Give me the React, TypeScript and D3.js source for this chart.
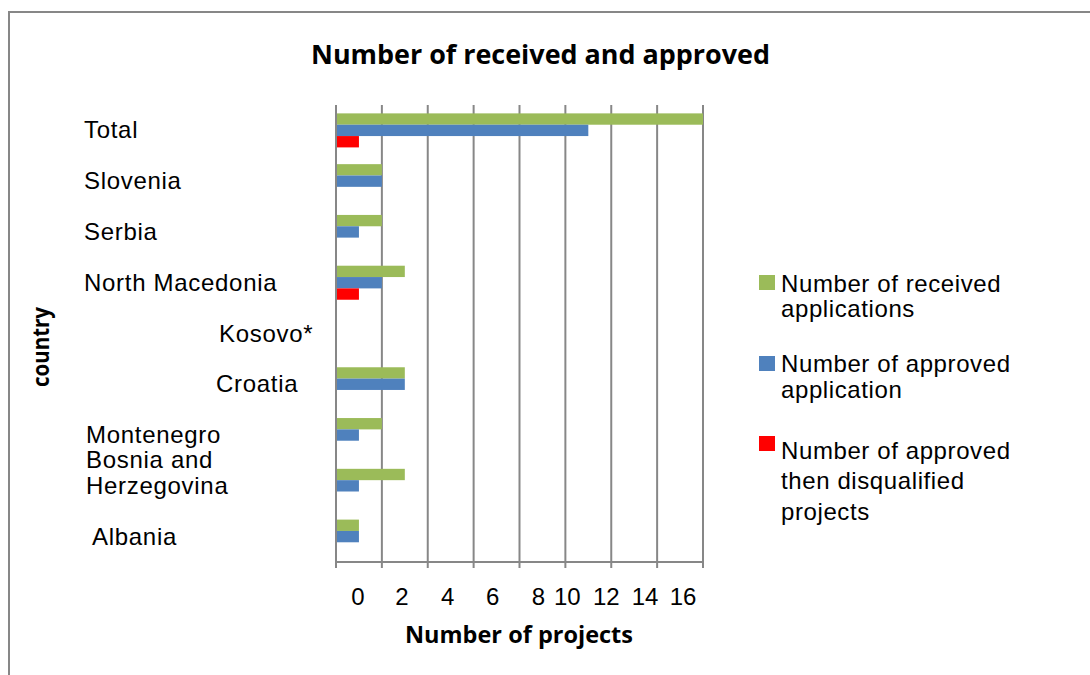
import React from "react";
import * as d3 from "d3";

const categories = [
  "Total",
  "Slovenia",
  "Serbia",
  "North Macedonia",
  "Kosovo*",
  "Croatia",
  "Montenegro",
  "Bosnia and Herzegovina",
  "Albania",
];
const received = [16, 2, 2, 3, 0, 3, 2, 3, 1];
const approved = [11, 2, 1, 2, 0, 3, 1, 1, 1];
const disqualified = [1, 0, 0, 1, 0, 0, 0, 0, 0];
const xTicks = [0, 2, 4, 6, 8, 10, 12, 14, 16];

const seriesNames = [
  ["Number of received", "applications"],
  ["Number of approved", "application"],
  ["Number of approved", "then disqualified", "projects"],
];
const seriesColors = ["#9BBB59", "#4F81BD", "#FF0000"];

// layout (style) constants
const W = 1090;
const H = 675;
const plot = { left: 336, right: 703, top: 105, bottom: 562 };
const labelLayout: Record<string, { x: number; lines: string[]; dy: number }> = {
  Total: { x: 84, lines: ["Total"], dy: 0 },
  Slovenia: { x: 84, lines: ["Slovenia"], dy: 0 },
  Serbia: { x: 84, lines: ["Serbia"], dy: 0 },
  "North Macedonia": { x: 84, lines: ["North Macedonia"], dy: 0 },
  "Kosovo*": { x: 219, lines: ["Kosovo*"], dy: 0 },
  Croatia: { x: 216, lines: ["Croatia"], dy: 0 },
  Montenegro: { x: 86, lines: ["Montenegro"], dy: 0 },
  "Bosnia and Herzegovina": { x: 86, lines: ["Bosnia and", "Herzegovina"], dy: -26 },
  Albania: { x: 92, lines: ["Albania"], dy: 0 },
};
const tickNudge = [22, 20, 20, 19, 19, 2, -5, -12, -20];
const legendLayout = [
  { sq: 275, lines: [283, 308] },
  { sq: 356, lines: [363, 389] },
  { sq: 436, lines: [450, 480, 511] },
];

export default function App() {
  const x = d3.scaleLinear().domain([0, 16]).range([plot.left, plot.right]);
  const y = d3
    .scaleBand<string>()
    .domain(categories)
    .range([plot.top, plot.bottom])
    .padding(0);
  const groupH = y.bandwidth() * 0.67;
  const sub = d3
    .scaleBand<number>()
    .domain([0, 1, 2])
    .range([0, groupH])
    .padding(0);
  const series = [received, approved, disqualified];
  const font = "'Liberation Sans', Arial, sans-serif";
  const boldFont = "'Open Sans', 'Noto Sans', sans-serif";

  return (
    <svg
      width={W}
      height={H}
      style={{ position: "absolute", left: 0, top: 0, background: "#fff" }}
    >
      <rect x={0} y={0} width={W} height={H} fill="#fff" />
      {/* frame */}
      <rect
        x={9}
        y={12}
        width={W + 20}
        height={H + 20}
        fill="none"
        stroke="#878787"
        strokeWidth={2}
      />
      {/* title */}
      <text
        x={540.5}
        y={53}
        textAnchor="middle"
        dominantBaseline="central"
        fontFamily={boldFont}
        fontWeight={700}
        fontSize={27}
        textLength={459}
        lengthAdjust="spacingAndGlyphs"
        fill="#000"
      >
        Number of received and approved
      </text>

      {/* gridlines */}
      {xTicks.map((t) => (
        <line
          key={"g" + t}
          x1={x(t)}
          x2={x(t)}
          y1={plot.top}
          y2={plot.bottom + 6}
          stroke="#878787"
          strokeWidth={2}
        />
      ))}
      <line
        x1={plot.left}
        x2={plot.right}
        y1={plot.bottom}
        y2={plot.bottom}
        stroke="#878787"
        strokeWidth={2}
      />

      {/* bars */}
      {categories.map((c, i) => {
        const y0 = (y(c) as number) + (y.bandwidth() - groupH) / 2;
        return series.map((s, k) =>
          s[i] > 0 ? (
            <rect
              key={c + k}
              x={x(0) + 1}
              y={y0 + (sub(k) as number)}
              width={x(s[i]) - x(0) - 1}
              height={sub.bandwidth()}
              fill={seriesColors[k]}
            />
          ) : null
        );
      })}

      {/* category labels */}
      {categories.map((c) => {
        const l = labelLayout[c];
        const cy = (y(c) as number) + y.bandwidth() / 2 + l.dy - 1;
        return (
          <text
            key={"l" + c}
            fontFamily={font}
            fontSize={24}
            letterSpacing={0.7}
            fill="#000"
            dominantBaseline="central"
          >
            {l.lines.map((ln, j) => (
              <tspan key={j} x={l.x} y={cy + j * 26}>
                {ln}
              </tspan>
            ))}
          </text>
        );
      })}

      {/* tick labels */}
      {xTicks.map((t, i) => (
        <text
          key={"t" + t}
          x={x(t) + tickNudge[i]}
          y={596}
          textAnchor="middle"
          dominantBaseline="central"
          fontFamily={font}
          fontSize={24}
          fill="#000"
        >
          {t}
        </text>
      ))}

      {/* axis titles */}
      <text
        x={519}
        y={634}
        textAnchor="middle"
        dominantBaseline="central"
        fontFamily={boldFont}
        fontWeight={700}
        fontSize={23}
        textLength={228}
        lengthAdjust="spacingAndGlyphs"
        fill="#000"
      >
        Number of projects
      </text>
      <text
        transform="translate(40,347) rotate(-90)"
        textAnchor="middle"
        dominantBaseline="central"
        fontFamily={boldFont}
        fontWeight={700}
        fontSize={23}
        textLength={80}
        lengthAdjust="spacingAndGlyphs"
        fill="#000"
      >
        country
      </text>

      {/* legend */}
      {seriesNames.map((lines, k) => (
        <g key={"lg" + k}>
          <rect
            x={759}
            y={legendLayout[k].sq}
            width={16}
            height={15}
            fill={seriesColors[k]}
          />
          {lines.map((ln, j) => (
            <text
              key={j}
              x={781}
              y={legendLayout[k].lines[j]}
              dominantBaseline="central"
              fontFamily={font}
              fontSize={24}
              letterSpacing={0.6}
              fill="#000"
            >
              {ln}
            </text>
          ))}
        </g>
      ))}
    </svg>
  );
}
